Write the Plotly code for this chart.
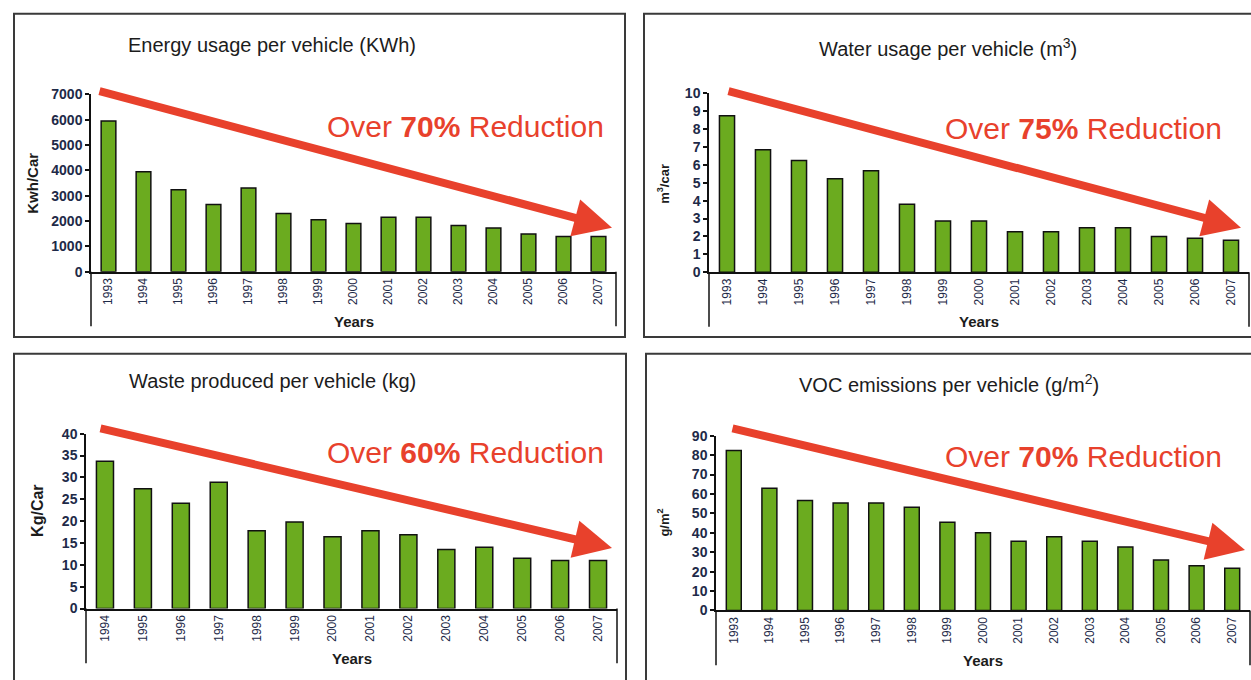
import plotly.graph_objects as go

W, H = 1251, 680

# ---- data ----
years_93 = ["1993", "1994", "1995", "1996", "1997", "1998", "1999", "2000",
            "2001", "2002", "2003", "2004", "2005", "2006", "2007"]
years_94 = ["1994", "1995", "1996", "1997", "1998", "1999", "2000",
            "2001", "2002", "2003", "2004", "2005", "2006", "2007"]

energy_kwh = [5950, 3950, 3230, 2650, 3300, 2300, 2050, 1900, 2150, 2150,
              1820, 1720, 1490, 1390, 1390]
water_m3 = [8.75, 6.85, 6.25, 5.22, 5.67, 3.80, 2.86, 2.86, 2.26, 2.26,
            2.49, 2.49, 2.00, 1.89, 1.78]
waste_kg = [33.7, 27.4, 24.1, 28.9, 17.8, 19.8, 16.4, 17.8, 16.9, 13.5,
            14.0, 11.5, 11.0, 11.0]
voc_gm2 = [82.4, 62.9, 56.6, 55.4, 55.4, 53.2, 45.4, 40.0, 35.7, 38.0,
           35.7, 32.7, 26.0, 23.0, 21.7]

titles = ["Energy usage per vehicle (KWh)", "Water usage per vehicle (m<sup>3</sup>)",
          "Waste produced per vehicle (kg)", "VOC emissions per vehicle (g/m<sup>2</sup>)"]
ytitles = ["Kwh/Car", "m<sup>3</sup>/car", "Kg/Car", "g/m<sup>2</sup>"]
reductions = ["70%", "75%", "60%", "70%"]
yticks = [(7000, 1000), (10, 1), (40, 5), (90, 10)]

# ---- layout in pixels ----
panels = [
    dict(cats=years_93, vals=energy_kwh, box=(14, 6, 625, 337), plot=(91, 616, 88.5, 270),
         title_xy=(272, 38), note_xy=(606, 121), ytitle_xy=(33, 180), ysize=15,
         arrow=((98, 88), (612, 225)), bw=0.42),
    dict(cats=years_93, vals=water_m3, box=(644, 6, 1262, 337), plot=(709, 1249, 87.5, 270.5),
         title_xy=(948, 40), note_xy=(1224, 123), ytitle_xy=(663, 180), ysize=13,
         arrow=((727, 88), (1241, 225)), bw=0.42),
    dict(cats=years_94, vals=waste_kg, box=(14, 354, 626, 690), plot=(86, 617, 436, 615),
         title_xy=(272, 382), note_xy=(606, 455), ytitle_xy=(38, 515), ysize=16,
         arrow=((99, 433), (612, 553)), bw=0.45),
    dict(cats=years_93, vals=voc_gm2, box=(646, 354, 1262, 690), plot=(716, 1250, 438, 617),
         title_xy=(949, 385), note_xy=(1224, 459), ytitle_xy=(663, 527), ysize=13,
         arrow=((731, 433), (1245, 555)), bw=0.42),
]

FONT = "Liberation Sans, Arial, sans-serif"
GREEN = "#6bab1f"
RED = "#e8412c"
INK = "#1c1c1c"


def px(x):
    return x / W


def py(y):
    return 1 - y / H


fig = go.Figure()
shapes, annotations = [], []
layout = dict(width=W, height=H, margin=dict(l=0, r=0, t=0, b=0),
              paper_bgcolor="white", plot_bgcolor="white", showlegend=False,
              font=dict(family=FONT, color=INK))

for i, p in enumerate(panels, start=1):
    sfx = "" if i == 1 else str(i)
    x0, x1, ytop, ybot = p["plot"]
    n = len(p["cats"])
    ymax, dtick = yticks[i - 1]

    fig.add_trace(go.Bar(
        x=p["cats"], y=p["vals"], xaxis=f"x{sfx}", yaxis=f"y{sfx}",
        width=p["bw"], marker=dict(color=GREEN, line=dict(color="#111", width=1.5)),
        hoverinfo="x+y"))

    layout[f"xaxis{sfx}"] = dict(
        domain=[px(x0), px(x1)], anchor=f"y{sfx}", type="category",
        range=[-0.5, n - 0.5], showline=True, linecolor="#111", linewidth=1.5,
        ticks="", tickangle=-90, tickfont=dict(size=12, color="#1e2a48"),
        showgrid=False, fixedrange=True)
    # divider ticks between year categories
    ov = 4 + i
    layout[f"xaxis{ov}"] = dict(
        overlaying=f"x{sfx}", anchor=f"y{sfx}", type="linear",
        range=[-0.5, n - 0.5], tickvals=[k - 0.5 for k in range(n + 1)],
        ticks="outside", ticklen=34, tickwidth=1.5, tickcolor="#111",
        showticklabels=False, showline=False, showgrid=False, zeroline=False,
        fixedrange=True)
    layout[f"yaxis{sfx}"] = dict(
        domain=[py(ybot), py(ytop)], anchor=f"x{sfx}", range=[0, ymax], dtick=dtick,
        showline=True, linecolor="#111", linewidth=1.5, ticks="outside", ticklen=4,
        tickwidth=1.5, tickcolor="#111",
        tickfont=dict(size=14, color="#1e2a48", weight="bold"),
        showgrid=False, zeroline=False, fixedrange=True)

    # panel frame
    bx0, by0, bx1, by1 = p["box"]
    shapes.append(dict(type="rect", xref="paper", yref="paper",
                       x0=px(bx0), x1=px(bx1), y0=py(by1), y1=py(by0),
                       line=dict(color="#3a3a3a", width=2)))
    # long outer lines under the category axis
    for xx in (x0, x1):
        shapes.append(dict(type="line", xref="paper", yref="paper",
                           x0=px(xx), x1=px(xx), y0=py(ybot), y1=py(ybot + 56),
                           line=dict(color="#111", width=1.5)))

    tx, ty = p["title_xy"]
    annotations.append(dict(text=titles[i - 1], x=px(tx), y=py(ty), xref="paper", yref="paper",
                            showarrow=False, xanchor="center", yanchor="middle",
                            font=dict(size=20, color=INK)))
    nx, ny = p["note_xy"]
    annotations.append(dict(text=f"Over <b>{reductions[i - 1]}</b> Reduction",
                            x=px(nx), y=py(ny), xref="paper", yref="paper",
                            showarrow=False, xanchor="right", yanchor="middle",
                            font=dict(size=30, color=RED)))
    yx, yy = p["ytitle_xy"]
    annotations.append(dict(text=f"<b>{ytitles[i - 1]}</b>", x=px(yx), y=py(yy),
                            xref="paper", yref="paper", showarrow=False, textangle=-90,
                            xanchor="center", yanchor="middle",
                            font=dict(size=p["ysize"], color=INK)))
    annotations.append(dict(text="<b>Years</b>", x=px((x0 + x1) / 2), y=py(ybot + 51),
                            xref="paper", yref="paper", showarrow=False,
                            xanchor="center", yanchor="middle",
                            font=dict(size=15, color=INK)))
    (sx, sy), (ex, ey) = p["arrow"]
    annotations.append(dict(text="", x=px(ex), y=py(ey), xref="paper", yref="paper",
                            ax=sx - ex, ay=sy - ey, axref="pixel", ayref="pixel",
                            showarrow=True, arrowhead=2, arrowsize=0.95, arrowwidth=8,
                            arrowcolor=RED, standoff=0))

layout["shapes"] = shapes
layout["annotations"] = annotations
fig.update_layout(**layout)

# drop the browser's default page margin so the figure sits at the window origin
fig.write_html("out.html", config={"displayModeBar": False},
               post_script="document.body.style.margin='0';document.body.style.overflow='hidden';")
